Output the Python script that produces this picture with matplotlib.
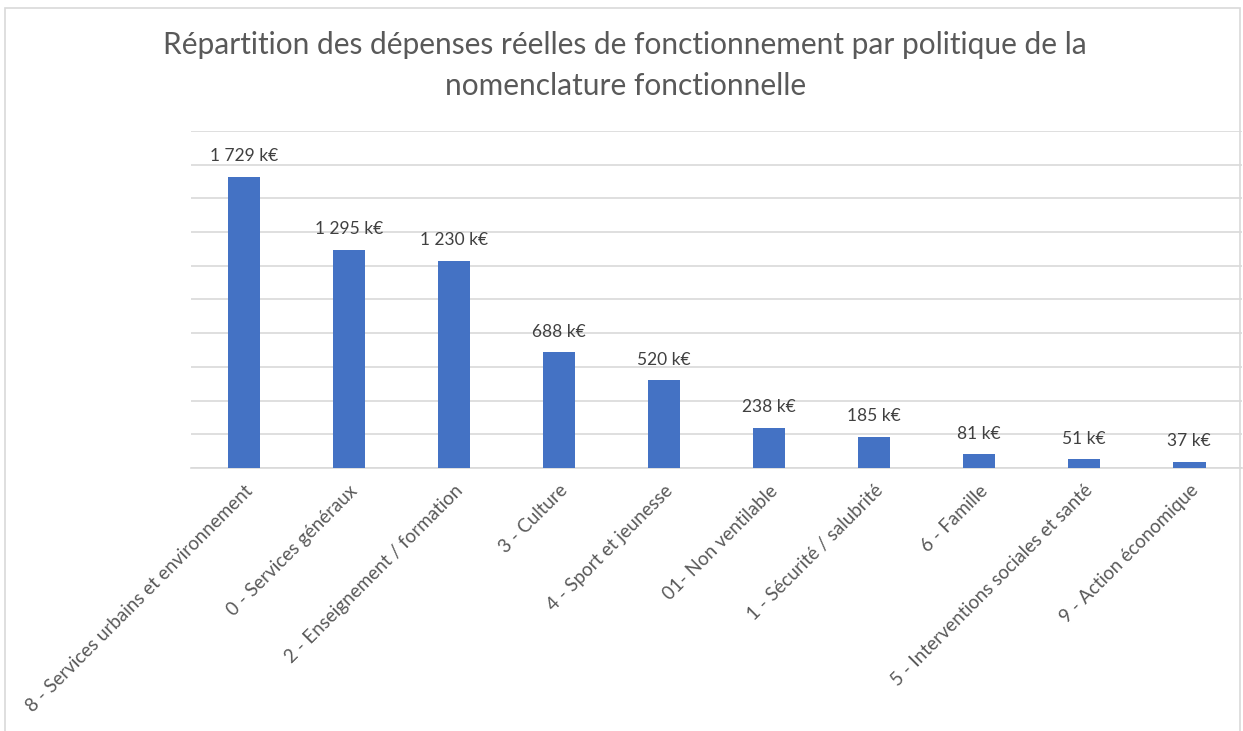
import matplotlib.pyplot as plt
from matplotlib.patches import Rectangle

plt.rcParams['font.family'] = ['Lato', 'DejaVu Sans']

categories = [
    "8 - Services urbains et environnement",
    "0 - Services généraux",
    "2 - Enseignement / formation",
    "3 - Culture",
    "4 - Sport et jeunesse",
    "01- Non ventilable",
    "1 - Sécurité / salubrité",
    "6 - Famille",
    "5 - Interventions sociales et santé",
    "9 - Action économique",
]
values = [1729, 1295, 1230, 688, 520, 238, 185, 81, 51, 37]
title = "Répartition des dépenses réelles de fonctionnement par politique de la\nnomenclature fonctionnelle"

fig = plt.figure(figsize=(12.43, 7.31), dpi=100)
ax = fig.add_axes([0.154, 0.3598, 0.845, 0.461])

x = range(len(categories))
bars = ax.bar(x, values, width=0.31, color="#4472C4", zorder=3)

for xi, v in zip(x, values):
    lab = f"{v:,}".replace(",", " ") + " k€"
    ax.annotate(lab, (xi, v), xytext=(0, 9), textcoords="offset points",
                ha="center", va="bottom", fontsize=12.5, color="#404040")

ax.set_xlim(-0.5, len(categories) - 0.5)
ax.set_ylim(0, 2000)
ax.set_yticks(range(0, 2001, 200))
ax.yaxis.grid(True, color="#D9D9D9", linewidth=1.2, zorder=0)
ax.tick_params(axis="y", length=0, labelleft=False)
ax.tick_params(axis="x", length=0, pad=10)
ax.set_xticks(list(x))
ax.set_xticklabels(categories, rotation=45, ha="right", rotation_mode="anchor",
                   fontsize=13.5, color="#595959")
for s in ["top", "right", "left"]:
    ax.spines[s].set_visible(False)
ax.spines["bottom"].set_color("#D9D9D9")
ax.spines["bottom"].set_linewidth(1.2)

fig.text(0.503, 0.957, title, ha="center", va="top", fontsize=21.5,
         color="#595959", linespacing=1.55)

# chart frame
fig.patches.append(Rectangle((5 / 1243, -0.01), 1235 / 1243, 0.999,
                             transform=fig.transFigure, fill=False,
                             edgecolor="#D9D9D9", linewidth=1.2))

fig.savefig("out.png", dpi=100)
